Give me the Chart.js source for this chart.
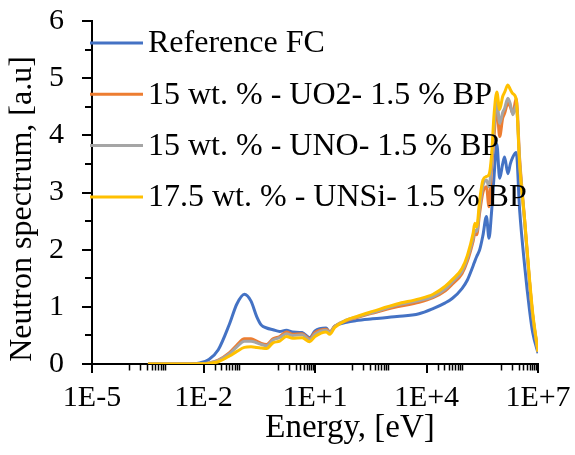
<!DOCTYPE html>
<html><head><meta charset="utf-8">
<script src="https://cdn.jsdelivr.net/npm/chart.js@4.4.1/dist/chart.umd.min.js"></script>
<style>html,body{margin:0;padding:0;background:#fff}#wrap{width:575px;height:455px}</style>
</head><body><div id="wrap"><canvas id="c" width="575" height="455"></canvas></div>
<script>
// ---- data ----
const energy = [3.2e-4,1e-3,3.2e-3,7.9e-3,1.4e-2,2.5e-2,5e-2,7.9e-2,0.126,0.19,0.27,0.36,0.5,0.74,1.12,1.7,2.5,4.5,7.2,10,20,25,34,71,130,355,1600,6300,1.5e4,3.2e4,5e4,9e4,1.26e5,1.8e5,2.0e5,2.24e5,2.7e5,3.3e5,4.1e5,4.8e5,5.6e5,6.6e5,7.8e5,9.3e5,1.12e6,1.26e6,1.55e6,1.8e6,2.1e6,2.6e6,3.2e6,4.4e6,5.9e6,7.2e6,1e7];
const referenceFC = [0,0,0,0.02,0.08,0.25,0.70,1.05,1.22,1.10,0.83,0.68,0.63,0.60,0.57,0.59,0.56,0.55,0.46,0.58,0.63,0.55,0.66,0.73,0.76,0.79,0.83,0.88,0.97,1.07,1.15,1.32,1.47,1.72,1.80,1.88,2.00,2.25,2.58,2.20,2.64,3.30,3.85,3.25,3.50,3.62,3.33,3.50,3.62,3.70,2.70,1.70,0.95,0.55,0.19];
const uo2 = [0,0,0,0.005,0.02,0.07,0.20,0.33,0.44,0.44,0.40,0.36,0.34,0.44,0.48,0.56,0.52,0.53,0.44,0.55,0.61,0.56,0.66,0.76,0.81,0.89,1.00,1.08,1.16,1.28,1.40,1.58,1.80,2.15,2.28,2.26,2.65,3.00,3.10,2.75,3.40,4.00,4.50,3.98,4.30,4.38,4.56,4.50,4.38,4.65,3.60,2.50,1.45,0.85,0.21];
const uno = [0,0,0,0.005,0.02,0.06,0.18,0.30,0.40,0.40,0.37,0.34,0.32,0.42,0.46,0.53,0.50,0.51,0.42,0.52,0.59,0.55,0.66,0.77,0.82,0.90,1.03,1.11,1.18,1.31,1.44,1.62,1.85,2.20,2.34,2.32,2.75,3.12,3.22,3.10,3.50,4.15,4.62,4.21,4.40,4.47,4.65,4.55,4.36,4.52,3.55,2.45,1.45,0.85,0.21];
const unsi = [0,0,0,0.003,0.01,0.04,0.14,0.22,0.29,0.30,0.29,0.28,0.27,0.37,0.40,0.48,0.45,0.46,0.39,0.48,0.56,0.52,0.64,0.77,0.83,0.92,1.05,1.14,1.22,1.36,1.48,1.67,1.90,2.29,2.46,2.40,2.87,3.22,3.28,3.31,3.63,4.38,4.76,4.45,4.68,4.75,4.88,4.80,4.73,4.62,3.50,2.50,1.50,0.90,0.22];
const seriesNames = ['Reference FC','15 wt. % - UO2- 1.5 % BP','15 wt. % - UNO- 1.5 % BP','17.5 wt. % - UNSi- 1.5 % BP'];
const seriesColors = ['#4472C4','#ED7D31','#A5A5A5','#FFC000'];
const xTickValues = [1e-5,1e-2,1e1,1e4,1e7];
const xTickLabels = ['1E-5','1E-2','1E+1','1E+4','1E+7'];
const yMin = 0, yMax = 6, yStep = 1;
const xTitle = 'Energy, [eV]';
const yTitle = 'Neutron spectrum, [a.u]';

const FONT = "'Liberation Serif','Times New Roman',serif";
const seriesData = [referenceFC, uo2, uno, unsi];

const datasets = seriesData.map((vals, i) => ({
  label: seriesNames[i],
  data: energy.map((e, j) => ({x: e, y: vals[j]})),
  borderColor: seriesColors[i],
  backgroundColor: seriesColors[i],
  borderWidth: 3,
  pointRadius: 0,
  fill: false,
  tension: 0.25,
  cubicInterpolationMode: 'monotone',
  order: seriesData.length - i
}));

// minor tick values on the log axis (every other decade, as in the reference)
const xMinor = [];
[-4,-2,0,2,4,6].forEach(n => { for (let k = 1; k <= 9; k++) { const v = k * Math.pow(10, n); if (!xTickValues.some(t => Math.abs(t - v) / t < 1e-9)) xMinor.push(v); } });

const decorPlugin = {
  id: 'decor',
  afterDraw(chart) {
    const ctx = chart.ctx, xs = chart.scales.x, ys = chart.scales.y, ca = chart.chartArea;
    ctx.save();
    ctx.strokeStyle = '#000'; ctx.lineWidth = 2;
    xTickValues.forEach(v => { const p = Math.round(xs.getPixelForValue(v)); ctx.beginPath(); ctx.moveTo(p, ca.bottom); ctx.lineTo(p, ca.bottom + 9); ctx.stroke(); });
    ctx.lineWidth = 1.5;
    xMinor.forEach(v => { const p = Math.round(xs.getPixelForValue(v)) + 0.5; ctx.beginPath(); ctx.moveTo(p, ca.bottom); ctx.lineTo(p, ca.bottom + 6.5); ctx.stroke(); });
    ctx.lineWidth = 2;
    for (let v = yMin; v <= yMax; v += yStep) { const p = Math.round(ys.getPixelForValue(v)); ctx.beginPath(); ctx.moveTo(ca.left - 10, p); ctx.lineTo(ca.left, p); ctx.stroke(); }
    for (let v = yMin + yStep / 2; v < yMax; v += yStep) { const p = Math.round(ys.getPixelForValue(v)); ctx.beginPath(); ctx.moveTo(ca.left - 7, p); ctx.lineTo(ca.left, p); ctx.stroke(); }
    ctx.fillStyle = '#000';
    ctx.textAlign = 'center'; ctx.textBaseline = 'middle';
    ctx.font = '33px ' + FONT;
    ctx.fillText(xTitle, 350, 428);
    ctx.font = '32px ' + FONT;
    ctx.save(); ctx.translate(23, 209); ctx.rotate(-Math.PI / 2); ctx.fillText(yTitle, 0, 0); ctx.restore();
    ctx.textAlign = 'left';
    chart.data.datasets.forEach((ds, i) => {
      const y = 43 + i * 51.3;
      ctx.strokeStyle = ds.borderColor; ctx.lineWidth = 3;
      ctx.beginPath(); ctx.moveTo(90, y); ctx.lineTo(143, y); ctx.stroke();
      ctx.fillStyle = '#000';
      ctx.fillText(ds.label, 148, y + 1);
    });
    ctx.restore();
  }
};

new Chart(document.getElementById('c'), {
  type: 'line',
  data: { datasets },
  options: {
    responsive: false, animation: false, devicePixelRatio: 1,
    layout: { padding: { top: 21, right: 37, left: 0, bottom: 0 } },
    plugins: { legend: { display: false }, tooltip: { enabled: false } },
    scales: {
      x: {
        type: 'logarithmic', min: 1e-5, max: 1e7, position: 'bottom',
        grid: { display: false, drawTicks: false },
        border: { display: true, color: '#000', width: 2 },
        afterBuildTicks: s => { s.ticks = xTickValues.map(v => ({ value: v })); },
        afterFit: s => { s.height = 91; s.paddingLeft = 0; s.paddingRight = 0; },
        ticks: { autoSkip: false, maxRotation: 0, color: '#000', padding: 16, font: { family: FONT, size: 30 },
          callback: (v, i) => xTickLabels[i] }
      },
      y: {
        type: 'linear', min: yMin, max: yMax,
        grid: { display: false, drawTicks: false },
        border: { display: true, color: '#000', width: 2 },
        afterFit: s => { s.width = 92; s.paddingTop = 0; s.paddingBottom = 0; },
        ticks: { stepSize: yStep, color: '#000', padding: 28, font: { family: FONT, size: 30 } }
      }
    }
  },
  plugins: [decorPlugin]
});
</script></body></html>
